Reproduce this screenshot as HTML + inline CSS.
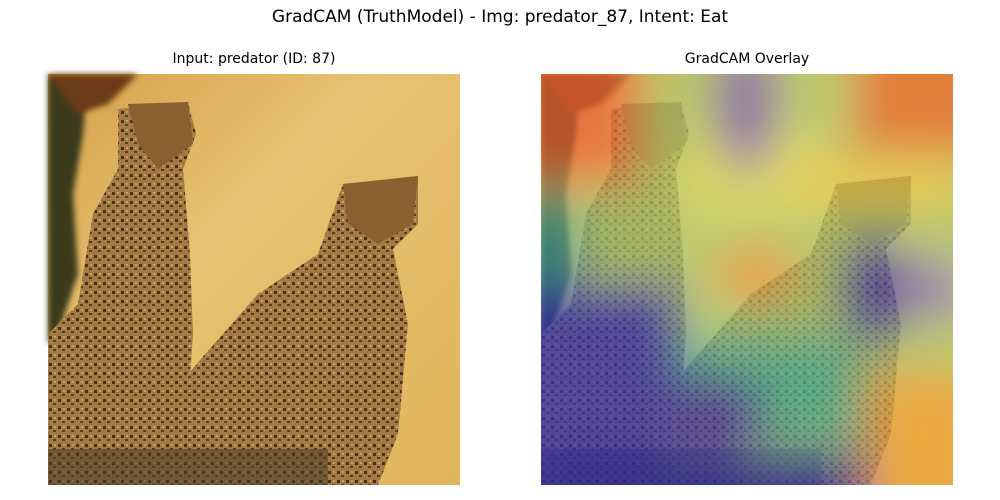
<!DOCTYPE html>
<html><head><meta charset="utf-8"><style>
html,body{margin:0;background:#fff;width:1000px;height:500px;overflow:hidden;font-family:"DejaVu Sans","Liberation Sans",sans-serif}
.t{position:absolute;white-space:nowrap;transform:translateX(-50%);color:#000;line-height:1}
</style></head><body>
<div class="t" style="left:500px;top:9px;font-size:17px">GradCAM (TruthModel) - Img: predator_87, Intent: Eat</div>
<div class="t" style="left:254px;top:52px;font-size:14px">Input: predator (ID: 87)</div>
<div class="t" style="left:747px;top:52px;font-size:14px">GradCAM Overlay</div>
<svg width="1000" height="500" style="position:absolute;left:0;top:0;display:block">
<defs>
<linearGradient id="bg" x1="0" y1="0" x2="1" y2="1">
<stop offset="0" stop-color="#d4a04a"/><stop offset="0.4" stop-color="#e8c272"/><stop offset="1" stop-color="#e0b45a"/></linearGradient>
<pattern id="spots" width="9" height="9" patternUnits="userSpaceOnUse">
<rect width="9" height="9" fill="#a27a44"/><rect x="1" y="1" width="3" height="3" fill="#4a3018"/><rect x="5" y="5" width="3" height="2" fill="#5a3c20"/><rect x="6" y="1" width="2" height="2" fill="#c8a060"/></pattern>
<filter id="blur"><feGaussianBlur stdDeviation="22"/></filter>
<filter id="b3"><feGaussianBlur stdDeviation="3"/></filter>
<clipPath id="clip"><rect width="412" height="411"/></clipPath>
<g id="photo">
<rect width="412" height="411" fill="url(#bg)"/>
<g filter="url(#b3)">
<path d="M0 0 L40 0 L35 60 L25 120 L30 200 L10 260 L0 270 Z" fill="#3a3a1a"/>
<path d="M0 0 L90 0 L60 30 L30 40 Z" fill="#6a3a18"/>
</g>
<path d="M70 35 L140 28 L148 60 L135 95 L142 180 L145 260 L140 330 L150 411 L0 411 L0 260 L30 230 L45 140 L70 95 Z" fill="url(#spots)"/>
<path d="M80 30 L140 28 L145 70 L110 95 L90 70 Z" fill="#8a6030"/>
<path d="M295 110 L370 102 L370 150 L345 175 L360 250 L350 360 L330 411 L120 411 L140 300 L210 220 L270 180 Z" fill="url(#spots)"/>
<path d="M295 110 L370 102 L365 150 L330 170 L300 150 Z" fill="#8a6030"/>
<rect x="0" y="375" width="280" height="36" fill="#4a3a2a" opacity="0.55"/>
</g>
</defs>
<g transform="translate(48,74)">
<use href="#photo"/>
</g>
<g transform="translate(541,74)" clip-path="url(#clip)">
<use href="#photo"/>
<g filter="url(#blur)" opacity="0.68">
<rect x="-50" y="-50" width="512" height="511" fill="#a8d070"/>
<rect x="-50" y="-50" width="150" height="160" fill="#f06030"/>
<rect x="140" y="60" width="140" height="80" fill="#d8e060"/>
<ellipse cx="205" cy="30" rx="32" ry="70" fill="#7050c0"/>
<rect x="310" y="-50" width="150" height="130" fill="#e06020"/>
<rect x="260" y="90" width="160" height="40" fill="#f0d040"/>
<rect x="-30" y="130" width="70" height="80" fill="#20a0a0"/>
<ellipse cx="215" cy="200" rx="40" ry="25" fill="#f08030"/>
<rect x="-50" y="210" width="190" height="250" fill="#3030c0"/>
<ellipse cx="335" cy="215" rx="35" ry="55" fill="#3020b0"/>
<ellipse cx="395" cy="215" rx="30" ry="35" fill="#8070d0"/>
<rect x="140" y="260" width="180" height="110" fill="#40c0a0"/>
<rect x="0" y="380" width="330" height="80" fill="#2020b0"/>
<ellipse cx="175" cy="340" rx="50" ry="40" fill="#4030b0"/>
<rect x="325" y="300" width="120" height="150" fill="#f0a030"/>
</g>
</g>
</svg>
</body></html>
